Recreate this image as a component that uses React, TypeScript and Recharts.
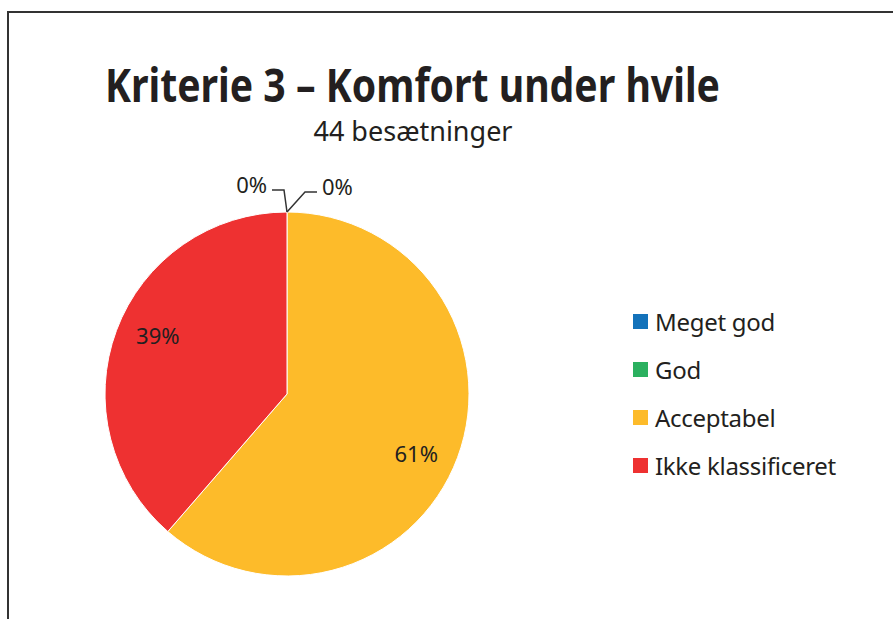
import React from "react";
import { PieChart, Pie, Cell, Legend } from "recharts";

const categories = ["Meget god", "God", "Acceptabel", "Ikke klassificeret"];
const herdCounts = [0, 0, 27, 17];
const sliceColors = ["#1372BA", "#2BB05F", "#FDBB2A", "#EE3131"];
const chartTitle = "Kriterie 3 – Komfort under hvile";
const chartSubtitle = "44 besætninger";

const data = categories.map((name, i) => ({ name, value: herdCounts[i] }));

const FONT = "'Noto Sans', 'DejaVu Sans', sans-serif";
const INK = "#231f20";
const RAD = Math.PI / 180;

if (typeof document !== "undefined") document.body.style.margin = "0";

function renderLabel(props: any) {
    const { cx, cy, midAngle, outerRadius, percent, index } = props;
    const text = `${Math.round(percent * 100)}%`;
    if (percent > 0) {
        const a = (midAngle - 4) * RAD;
        const r = outerRadius * 0.78;
        return (
            <text
                x={cx + r * Math.cos(a)}
                y={cy - r * Math.sin(a)}
                textAnchor="middle"
                dominantBaseline="central"
                fill={INK}
                fontSize={22}
                fontFamily={FONT}
            >
                {text}
            </text>
        );
    }
    // zero slices sit at the top of the pie, labels pushed out with leader lines
    const ax = cx + outerRadius * Math.cos(midAngle * RAD);
    const ay = cy - outerRadius * Math.sin(midAngle * RAD);
    const left = index % 2 === 0;
    const pts = left
        ? [[ax, ay], [ax - 3, ay - 22], [ax - 15, ay - 22]]
        : [[ax, ay], [ax + 18, ay - 20], [ax + 30, ay - 20]];
    const tx = left ? ax - 20 : ax + 35;
    const ty = left ? ay - 28 : ay - 26;
    return (
        <g>
            <polyline
                points={pts.map((p) => p.join(",")).join(" ")}
                fill="none"
                stroke="#333"
                strokeWidth={1.5}
            />
            <text
                x={tx}
                y={ty}
                textAnchor={left ? "end" : "start"}
                dominantBaseline="central"
                fill={INK}
                fontSize={22}
                fontFamily={FONT}
            >
                {text}
            </text>
        </g>
    );
}

function LegendBox() {
    return (
        <div style={{ fontFamily: FONT, color: INK }}>
            {categories.map((name, i) => (
                <div key={name} style={{ height: 48, display: "flex", alignItems: "center" }}>
                    <span
                        style={{
                            width: 15,
                            height: 15,
                            background: sliceColors[i],
                            marginRight: 7,
                            display: "inline-block",
                        }}
                    />
                    <span style={{ fontSize: 24, letterSpacing: -0.3 }}>{name}</span>
                </div>
            ))}
        </div>
    );
}

export default function App() {
    return (
        <div style={{ position: "relative", width: 893, height: 619, overflow: "hidden", background: "#fff" }}>
            <div
                style={{
                    position: "absolute",
                    left: 7,
                    top: 11,
                    width: 950,
                    height: 700,
                    border: "2px solid #333",
                }}
            />
            <div style={{ position: "absolute", left: 0, top: 0 }}>
                <PieChart width={893} height={619} margin={{ top: 0, right: 0, bottom: 0, left: 0 }}>
                    <Pie
                        data={data}
                        dataKey="value"
                        nameKey="name"
                        cx={287}
                        cy={394}
                        outerRadius={182}
                        startAngle={90}
                        endAngle={-270}
                        stroke="#fff"
                        strokeWidth={1}
                        label={renderLabel}
                        labelLine={false}
                        isAnimationActive={false}
                    >
                        {data.map((d, i) => (
                            <Cell key={d.name} fill={sliceColors[i]} />
                        ))}
                    </Pie>
                    <Legend
                        content={() => <LegendBox />}
                        wrapperStyle={{ left: 633, top: 297, width: 260 }}
                    />
                </PieChart>
            </div>
            <svg
                width={893}
                height={160}
                style={{ position: "absolute", left: 0, top: 0, pointerEvents: "none" }}
            >
                <text
                    x={105}
                    y={102}
                    textLength={615}
                    lengthAdjust="spacingAndGlyphs"
                    fontSize={46}
                    fontWeight="bold"
                    fill={INK}
                    fontFamily={FONT}
                >
                    {chartTitle}
                </text>
                <text x={413} y={141} textAnchor="middle" fontSize={27} fill={INK} fontFamily={FONT}>
                    {chartSubtitle}
                </text>
            </svg>
        </div>
    );
}
